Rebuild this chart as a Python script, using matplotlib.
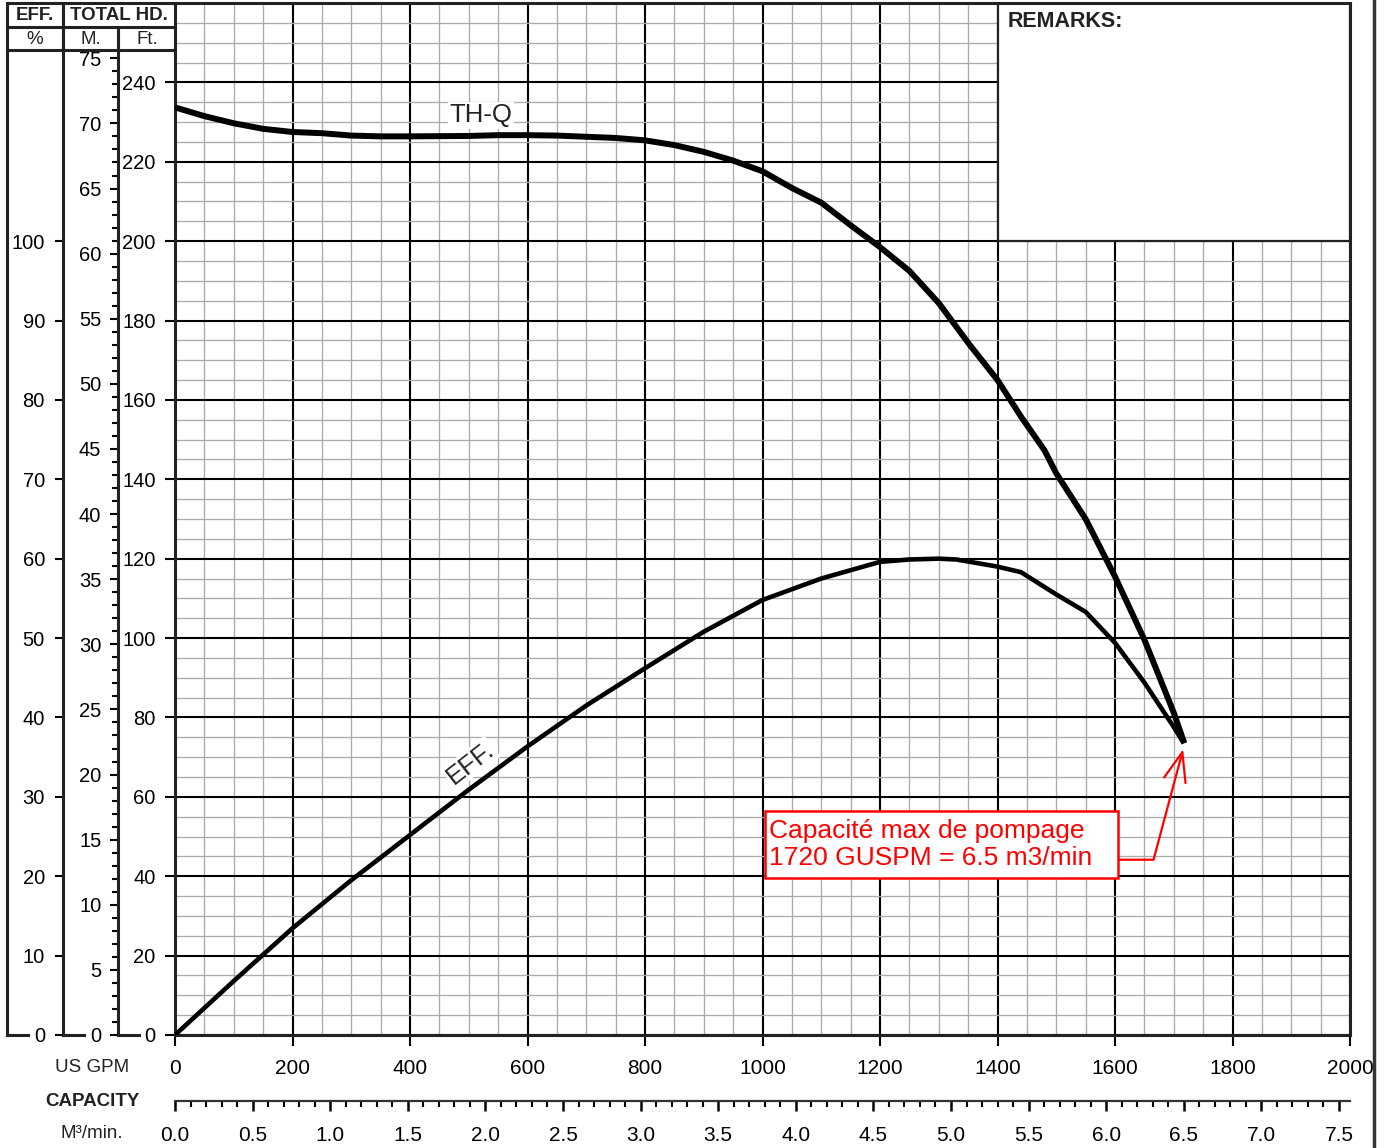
import numpy as np
import matplotlib
matplotlib.use("Agg")
import matplotlib.pyplot as plt
from matplotlib.patches import Rectangle
from matplotlib.ticker import FixedLocator, FormatStrFormatter

plt.rcParams['font.family'] = ['Liberation Sans', 'DejaVu Sans']

# total head curve (US GPM, ft)
q_head = [0, 50, 100, 150, 200, 250, 300, 350, 400, 500, 550, 600, 650, 700,
          750, 800, 850, 900, 950, 1000, 1050, 1100, 1150, 1200, 1250, 1300,
          1350, 1400, 1440, 1480, 1500, 1550, 1600, 1650, 1700, 1718]
head_ft = [233.7, 231.5, 229.7, 228.3, 227.5, 227.2, 226.6, 226.4, 226.4,
           226.5, 226.7, 226.7, 226.6, 226.3, 226.0, 225.4, 224.2, 222.5,
           220.3, 217.6, 213.4, 209.7, 204.0, 198.5, 192.5, 184.4, 174.4,
           165.0, 155.8, 147.3, 141.5, 130.0, 115.5, 99.6, 81.2, 73.5]

# efficiency curve (US GPM, %)
q_eff = [0, 100, 200, 300, 400, 500, 600, 700, 800, 900, 1000, 1100, 1200,
         1250, 1300, 1330, 1400, 1440, 1500, 1550, 1600, 1650, 1700, 1715]
eff_pct = [0, 6.8, 13.45, 19.5, 25.2, 30.9, 36.35, 41.5, 46.2, 50.8, 54.8,
           57.5, 59.6, 59.9, 60.0, 59.9, 59.0, 58.3, 55.5, 53.3, 49.4, 44.4,
           38.8, 37.0]

gpm_ticks = list(range(0, 2001, 200))
ft_ticks = list(range(0, 241, 20))
m_ticks = list(range(0, 76, 5))
eff_ticks = list(range(0, 101, 10))
m3_ticks = [i * 0.5 for i in range(16)]

max_gpm = 1716
max_head = 72
note = "Capacité max de pompage\n1720 GUSPM = 6.5 m3/min"

FT_PER_M = 3.28084
GPM_PER_M3 = 264.172
FT_PER_EFF = 2.0  # 100 % sits on the 200 ft line

W, H = 1393, 1148
fig = plt.figure(figsize=(W / 100, H / 100), dpi=100)
x0, x1, y0, y1 = 175, 1350, 1035, 3
ax = fig.add_axes([x0 / W, 1 - y0 / H, (x1 - x0) / W, (y0 - y1) / H])
ax.set_xlim(0, 2000)
ax.set_ylim(0, 260)

ax.set_xticks(gpm_ticks)
ax.set_yticks(ft_ticks)
ax.xaxis.set_minor_locator(FixedLocator(np.arange(0, 2001, 50)))
ax.yaxis.set_minor_locator(FixedLocator(np.arange(0, 261, 5)))
ax.set_axisbelow(True)
ax.grid(which='minor', color='#ababab', lw=0.95)
ax.grid(which='major', color='black', lw=1.5)
ax.tick_params(which='minor', length=0)
ax.tick_params(axis='x', which='major', length=8, width=1.5, labelsize=15, pad=9)
ax.tick_params(axis='y', which='major', length=7, width=1.5, labelsize=14.5, pad=7)
for s in ax.spines.values():
    s.set_linewidth(2.2)
    s.set_color('#222222')

# remarks box
ax.add_patch(Rectangle((1400, 200), 600, 60, facecolor='white', edgecolor='#222222',
                       lw=1.6, zorder=2))
ax.text(1418, 255.4, "REMARKS:", fontsize=15.5, fontweight='bold', color='#222222',
        ha='left', va='center', zorder=3)

ax.plot(q_head, head_ft, color='black', lw=4.3, zorder=4, solid_capstyle='butt')
ax.plot(q_eff, [e * FT_PER_EFF for e in eff_pct], color='black', lw=3.3, zorder=4)

ax.text(521, 231.7, "TH-Q", fontsize=18.5, ha='center', va='center', color='#222222',
        bbox=dict(facecolor='white', edgecolor='none', pad=1), zorder=5)
ax.text(503, 68.5, "EFF.", fontsize=18.5, ha='center', va='center', rotation=38,
        rotation_mode='anchor', color='#222222',
        bbox=dict(facecolor='white', edgecolor='none', pad=1), zorder=5)

# note box, wider than its text as in the original sheet
note_box = Rectangle((1004, 39.6), 601, 16.9, facecolor='white', edgecolor='red',
                     lw=1.8, zorder=6)
ax.add_patch(note_box)
ax.annotate(note, xy=(max_gpm, max_head), xytext=(1011, 48.0),
            fontsize=19, color='red', ha='left', va='center', linespacing=1.15,
            arrowprops=dict(arrowstyle='->,head_length=1.1,head_width=0.42',
                            color='red', lw=1.6, shrinkA=0, shrinkB=0,
                            relpos=(1.0, 0.2), patchA=note_box,
                            connectionstyle='angle,angleA=0,angleB=75,rad=0'),
            zorder=7)

# extra scales on the left: metres and efficiency
span = x1 - x0
sec_m = ax.secondary_yaxis((118 - x0) / span,
                           functions=(lambda f: f / FT_PER_M, lambda m: m * FT_PER_M))
sec_m.set_alignment('left')
sec_m.set_yticks(m_ticks)
sec_m.yaxis.set_minor_locator(FixedLocator(np.arange(0, 76, 1)))
sec_m.tick_params(which='major', length=6, width=1.5, labelsize=14.5, pad=6)
sec_m.tick_params(which='minor', length=4, width=1.5)
sec_m.spines['left'].set_linewidth(2.2)
sec_m.spines['left'].set_color('#222222')
sec_m.spines['left'].set_bounds(0, (y0 - 27) / (y0 - y1) * 260 / FT_PER_M)

sec_e = ax.secondary_yaxis((63 - x0) / span,
                           functions=(lambda f: f / FT_PER_EFF, lambda e: e * FT_PER_EFF))
sec_e.set_alignment('left')
sec_e.set_yticks(eff_ticks)
sec_e.tick_params(which='major', length=6, width=1.5, labelsize=14.5, pad=7)
sec_e.spines['left'].set_linewidth(2.2)
sec_e.spines['left'].set_color('#222222')

# capacity scale in m3/min under the gpm scale
sec_x = ax.secondary_xaxis(-(1101 - y0) / (y0 - y1),
                           functions=(lambda g: g / GPM_PER_M3, lambda q: q * GPM_PER_M3))
sec_x.set_alignment('bottom')
sec_x.set_xticks(m3_ticks)
sec_x.xaxis.set_major_formatter(FormatStrFormatter('%.1f'))
sec_x.xaxis.set_minor_locator(FixedLocator(np.arange(0, 7.55, 0.1)))
sec_x.tick_params(which='major', length=7, width=1.8, labelsize=15, pad=11)
sec_x.tick_params(which='minor', length=4, width=1.5)
sec_x.spines['bottom'].set_linewidth(1.6)
sec_x.spines['bottom'].set_color('#333333')

# header boxes and frame lines, in pixel units
fr = fig.add_axes([0, 0, 1, 1])
fr.set_xlim(0, W)
fr.set_ylim(H, 0)
fr.axis('off')
lc = '#222222'
for yy in (3, 27, 50):
    fr.plot([7, x0], [yy, yy], color=lc, lw=2.2)
fr.plot([7, 7], [3, y0], color=lc, lw=2.2)
fr.plot([63, 63], [3, 50], color=lc, lw=2.2)
fr.plot([118, 118], [27, 50], color=lc, lw=2.2)
for xx in (7, 63, 118):
    fr.plot([xx, xx + 21], [y0, y0], color=lc, lw=2.2)
fr.plot([1374, 1374], [0, H], color='#333333', lw=2.5)

fr.text(35, 15, "EFF.", fontsize=13.5, fontweight='bold', ha='center', va='center', color=lc)
fr.text(119, 15, "TOTAL HD.", fontsize=13.5, fontweight='bold', ha='center', va='center', color=lc)
fr.text(35, 39, "%", fontsize=13.5, ha='center', va='center', color=lc)
fr.text(91, 39, "M.", fontsize=13.5, ha='center', va='center', color=lc)
fr.text(147, 39, "Ft.", fontsize=13.5, ha='center', va='center', color=lc)
fr.text(92, 1067, "US GPM", fontsize=13.5, ha='center', va='center', color=lc)
fr.text(92, 1101, "CAPACITY", fontsize=13.5, fontweight='bold', ha='center', va='center', color=lc)
fr.text(92, 1133, "M³/min.", fontsize=13.5, ha='center', va='center', color=lc)

fig.savefig("out.png", dpi=100)
